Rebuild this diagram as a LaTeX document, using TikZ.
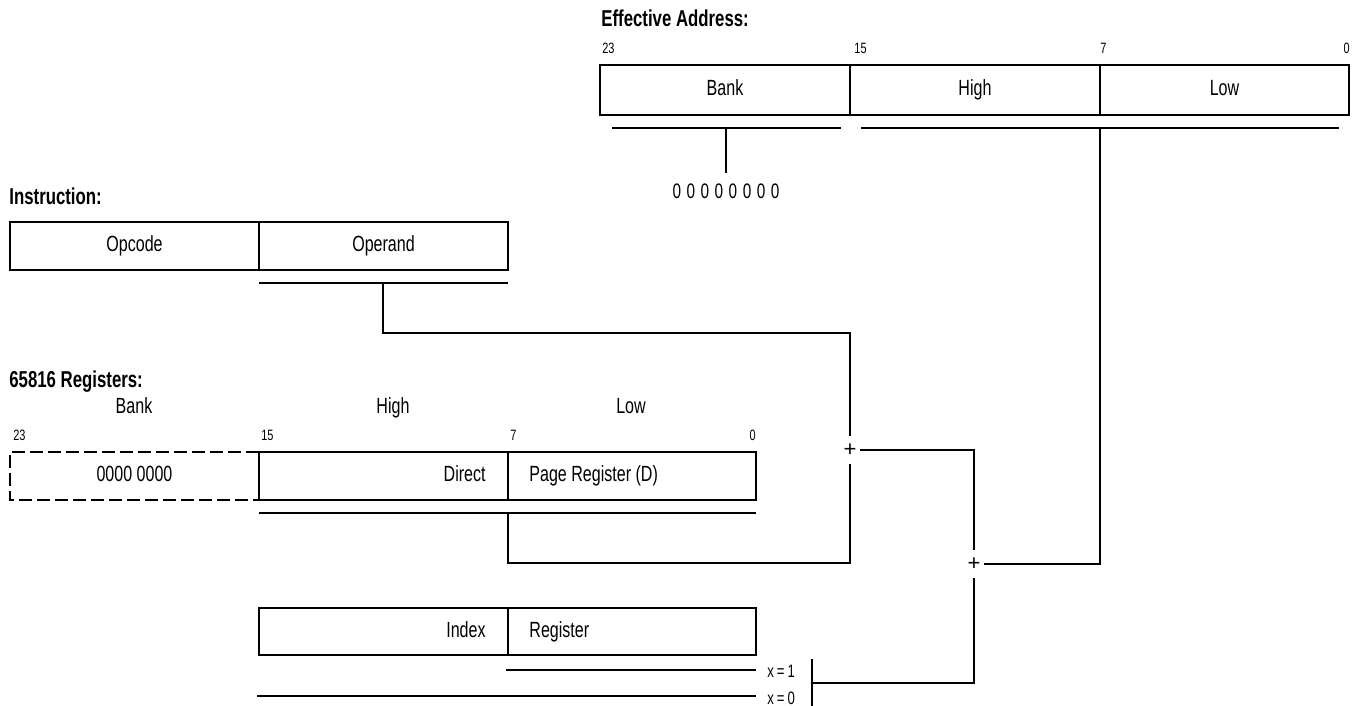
\documentclass[tikz,border=0pt]{standalone}
\usepackage{fontspec}
\setmainfont[FakeStretch=0.73]{Liberation Sans}
\newfontfamily\plainsans{Liberation Sans}
\begin{document}
\begin{tikzpicture}[x=1pt,y=-1pt,
  line width=2.8pt, line cap=butt, line join=miter,
  fld/.style={draw, inner sep=0pt, outer sep=0pt, anchor=west},
  ftxt/.style={inner sep=0pt, text height=15.8pt, text depth=4.4pt, font=\fontsize{22}{22}\selectfont},
  bitn/.style={inner sep=0pt, text height=10.8pt, text depth=0pt, font=\fontsize{15}{15}\selectfont},
  ttl/.style={inner sep=0pt, anchor=west, text height=16.5pt, text depth=4.6pt, font=\fontsize{23}{23}\selectfont\bfseries},
  junc/.style={rectangle, inner sep=0pt, minimum width=18pt, minimum height=26pt, font=\fontsize{22}{22}\plainsans},
  uline/.style={line width=2.8pt},
  dashbox/.style={dash pattern=on 13pt off 5pt}]
\useasboundingbox (0,0) rectangle (1362,706);

% ---------- Effective address ----------
\node[ttl] (eattl) at (600,21) {Effective Address:};
\node[bitn,anchor=west] (ea23) at (601,48) {23};
\node[bitn,anchor=west] (ea15) at (853,48) {15};
\node[bitn,anchor=west] (ea7) at (1099,48) {7};
\node[bitn,anchor=east] (ea0) at (1351,48) {0};
\node[fld, minimum width=250pt, minimum height=50pt] (eabank) at (600,90) {};
\node[fld, minimum width=250pt, minimum height=50pt] (eahigh) at (850,90) {};
\node[fld, minimum width=249pt, minimum height=50pt] (ealow) at (1100,90) {};
\node[ftxt] (eabankt) at (eabank.center) {Bank};
\node[ftxt] (eahight) at (eahigh.center) {High};
\node[ftxt] (ealowt) at (ealow.center) {Low};
\coordinate (bkl) at (612,128); \coordinate (bkr) at (841,128);
\coordinate (hll) at (861,128); \coordinate (hlr) at (1339,128);
\draw[uline] (bkl) -- (bkr);
\draw[uline] (hll) -- (hlr);
\coordinate (bku) at (726,128);
\coordinate (bkend) at (726,173);
\node[ftxt, font=\fontsize{21}{21}\selectfont] (zeros) at (726,193) {0\hspace{5.5pt}0\hspace{5.5pt}0\hspace{5.5pt}0\hspace{5.5pt}0\hspace{5.5pt}0\hspace{5.5pt}0\hspace{5.5pt}0};
\draw (bku) -- (bkend);
\coordinate (eau) at (1100,128);

% ---------- Instruction ----------
\node[ttl] (insttl) at (8,199) {Instruction:};
\node[fld, minimum width=249pt, minimum height=48pt] (opcode) at (10,246) {};
\node[fld, minimum width=249pt, minimum height=48pt] (operand) at (259,246) {};
\node[ftxt] (opcodet) at (opcode.center) {Opcode};
\node[ftxt] (operandt) at (operand.center) {Operand};
\coordinate (opl) at (259,283); \coordinate (opr) at (508,283);
\draw[uline] (opl) -- (opr);
\coordinate (opu) at (383,283);
\coordinate (c1) at (383,333);

% ---------- Registers ----------
\node[ttl] (regttl) at (8,382) {65816 Registers:};
\node[ftxt] (rbank) at (134,408) {Bank};
\node[ftxt] (rhigh) at (393,408) {High};
\node[ftxt] (rlow) at (631,408) {Low};
\node[bitn,anchor=west] (r23) at (12,435) {23};
\node[bitn,anchor=west] (r15) at (260,435) {15};
\node[bitn,anchor=west] (r7) at (509,435) {7};
\node[bitn,anchor=east] (r0) at (757,435) {0};
\node[fld, draw=none, minimum width=249pt, minimum height=48pt] (rbankf) at (10,476) {};
\draw[dashbox] (rbankf.north east) -- (rbankf.north west) -- (rbankf.south west) -- (rbankf.south east);
\node[fld, minimum width=249pt, minimum height=48pt] (direct) at (259,476) {};
\node[fld, minimum width=248pt, minimum height=48pt] (page) at (508,476) {};
\node[ftxt] (rbankt) at (rbankf.center) {0000 0000};
\node[ftxt, anchor=east] (directt) at ([xshift=-21pt]direct.east) {Direct};
\node[ftxt, anchor=west] (paget) at ([xshift=20pt]page.west) {Page Register (D)};
\coordinate (dpl) at (259,513); \coordinate (dpr) at (756,513);
\draw[uline] (dpl) -- (dpr);
\coordinate (dpu) at (508,513);
\coordinate (c2) at (508,563);

% ---------- Index register ----------
\node[fld, minimum width=249pt, minimum height=47pt] (index) at (259,631.5) {};
\node[fld, minimum width=248pt, minimum height=47pt] (ireg) at (508,631.5) {};
\node[ftxt, anchor=east] (indext) at ([xshift=-21pt]index.east) {Index};
\node[ftxt, anchor=west] (iregt) at ([xshift=20pt]ireg.west) {Register};
\coordinate (x1l) at (506,670); \coordinate (x1r) at (756,670);
\coordinate (x0l) at (257,696); \coordinate (x0r) at (756,696);
\draw[uline] (x1l) -- (x1r);
\draw[uline] (x0l) -- (x0r);
\node[ftxt, anchor=west, text height=13pt, text depth=0pt, font=\fontsize{18}{18}\selectfont] (x1t) at (766,671) {x\,=\,1};
\node[ftxt, anchor=west, text height=13pt, text depth=0pt, font=\fontsize{18}{18}\selectfont] (x0t) at (766,698) {x\,=\,0};
\coordinate (brt) at (812,659); \coordinate (brb) at (812,706);
\draw (brt) -- (brb);
\coordinate (brk) at (812,683);

% ---------- Adders ----------
\node[junc] (plus1) at (850,450) {+};
\node[junc] (plus2) at (974,564) {+};

% ---------- connectors ----------
\draw (opu) -- (c1) -| (plus1);
\draw (dpu) -- (c2) -| (plus1);
\draw (plus1) -| (plus2);
\draw (eau) |- (plus2);
\draw (plus2) |- (brk);
\end{tikzpicture}
\end{document}
